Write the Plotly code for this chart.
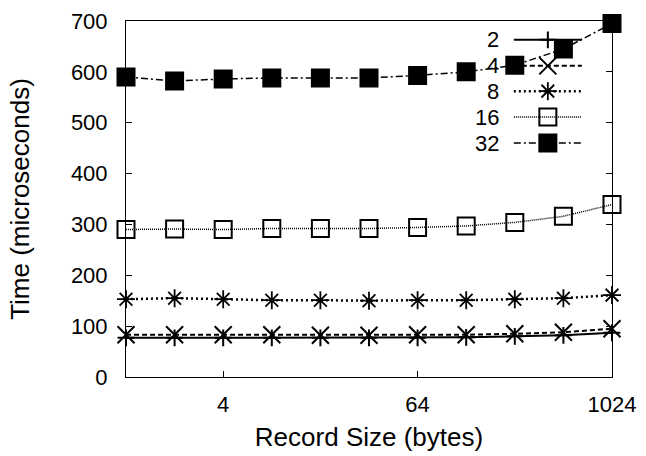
import plotly.graph_objects as go

# Record sizes in bytes (log2 axis)
record_sizes = [1, 2, 4, 8, 16, 32, 64, 128, 256, 512, 1024]

# Mean time per operation (microseconds) for each batch count
series_names = ["2", "4", "8", "16", "32"]
time_2 = [77, 77, 77, 77, 77, 77, 77, 78, 80, 82, 87]
time_4 = [83, 83, 83, 83, 82, 82, 83, 83, 85, 88, 95]
time_8 = [153, 155, 153, 151, 151, 150, 151, 151, 153, 155, 161]
time_16 = [290, 291, 290, 292, 292, 292, 294, 297, 304, 316, 339]
time_32 = [590, 582, 586, 588, 588, 588, 593, 600, 613, 645, 695]
series_values = [time_2, time_4, time_8, time_16, time_32]

x_ticks = [4, 64, 1024]
y_ticks = [0, 100, 200, 300, 400, 500, 600, 700]

styles = [
    dict(dash="solid", width=2, symbol="cross-thin-open", size=12, mw=2),
    dict(dash="5px,3px", width=2, symbol="x-thin-open", size=17, mw=2),
    dict(dash="2px,3px", width=2.5, symbol="asterisk-open", size=15, mw=1.8),
    dict(dash="1px,1px", width=1.5, symbol="square-open", size=17, mw=2),
    dict(dash="7px,3px,2px,3px", width=1.5, symbol="square", size=17, mw=2),
]

fig = go.Figure()

for name, vals, st in zip(series_names, series_values, styles):
    fig.add_trace(go.Scatter(
        x=record_sizes, y=vals, mode="lines+markers", name=name,
        line=dict(color="black", width=st["width"], dash=st["dash"]),
        marker=dict(symbol=st["symbol"], size=st["size"], color="black",
                    line=dict(color="black", width=st["mw"])),
        cliponaxis=False, showlegend=False,
    ))

# Key drawn inside the plot, top right: label, then line sample with marker
key_rows = [0.947, 0.874, 0.803, 0.730, 0.657]
for name, yk, st in zip(series_names, key_rows, styles):
    fig.add_trace(go.Scatter(
        x=[0.798, 0.938], y=[yk, yk], xaxis="x2", yaxis="y2", mode="lines",
        line=dict(color="black", width=st["width"], dash=st["dash"]),
        hoverinfo="skip", showlegend=False,
    ))
    fig.add_trace(go.Scatter(
        x=[0.868], y=[yk], xaxis="x2", yaxis="y2", mode="markers",
        marker=dict(symbol=st["symbol"], size=st["size"], color="black",
                    line=dict(color="black", width=st["mw"])),
        hoverinfo="skip", showlegend=False,
    ))
    fig.add_annotation(x=0.772, y=yk, xref="x2", yref="y2", text=name,
                       showarrow=False, xanchor="right", yanchor="middle",
                       font=dict(size=22, color="black"))

font = dict(family="Liberation Sans, Arial, sans-serif", size=22, color="black")

fig.update_layout(
    width=646, height=456,
    margin=dict(l=126, r=34, t=21, b=79),
    plot_bgcolor="white", paper_bgcolor="white",
    font=font,
    xaxis=dict(
        type="log", range=[0, 3.0103], tickvals=x_ticks,
        ticktext=[str(v) for v in x_ticks],
        ticks="inside", ticklen=6, tickcolor="black",
        ticklabelstandoff=8, automargin=False,
        showline=True, linecolor="black", linewidth=1, mirror=True,
        showgrid=False, zeroline=False,
        title=dict(text="Record Size (bytes)", standoff=11),
    ),
    yaxis=dict(
        range=[0, 700], tickvals=y_ticks,
        ticks="inside", ticklen=6, tickcolor="black",
        ticklabelstandoff=13, automargin=False,
        showline=True, linecolor="black", linewidth=1, mirror="ticks",
        showgrid=False, zeroline=False,
        title=dict(text="Time (microseconds)", standoff=33),
    ),
    xaxis2=dict(range=[0, 1], overlaying="x", visible=False, anchor="y2"),
    yaxis2=dict(range=[0, 1], overlaying="y", visible=False, anchor="x2"),
)

fig.write_html("out.html")
